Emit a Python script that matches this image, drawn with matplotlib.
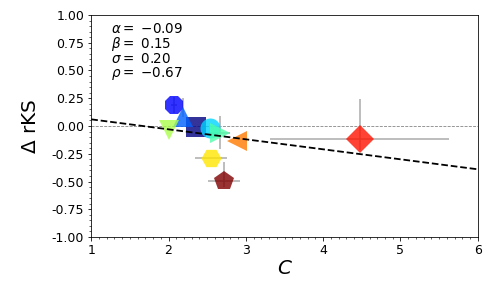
import numpy as np
import matplotlib
matplotlib.use('Agg')
import matplotlib.pyplot as plt
from matplotlib.ticker import MultipleLocator, FormatStrFormatter

# one point per object, ordered as drawn (jet colour index)
c_vals = [2.36, 2.07, 2.19, 2.54, 2.66, 2.01, 2.55, 2.89, 4.47, 2.72]
rks_vals = [-0.005, 0.19, 0.08, -0.015, -0.06, -0.04, -0.285, -0.135, -0.12, -0.495]
c_err = [0.0, 0.04, 0.0, 0.0, 0.13, 0.0, 0.21, 0.0, 1.16, 0.21]
rks_err_lo = [0.0, 0.07, 0.0, 0.0, 0.15, 0.0, 0.0, 0.0, 0.1, 0.05]
rks_err_hi = [0.0, 0.07, 0.17, 0.0, 0.15, 0.0, 0.0, 0.0, 0.36, 0.17]
markers = ['s', '8', '^', 'o', '>', 'v', 'H', '<', 'D', 'p']

# linear fit parameters
alpha = -0.09
beta = 0.15
sigma = 0.20
rho = -0.67


def main():
    fig = plt.figure(figsize=(7, 4), dpi=72)
    ax = fig.add_axes([0.181, 0.177, 0.767, 0.771])

    colors = plt.cm.jet(np.linspace(0, 1, len(c_vals)))

    ax.axhline(0, color='grey', linestyle='--', linewidth=0.8, zorder=0)

    for i in range(len(c_vals)):
        ax.errorbar(
            c_vals[i], rks_vals[i],
            xerr=c_err[i],
            yerr=[[rks_err_lo[i]], [rks_err_hi[i]]],
            fmt='none', ecolor='darkgray', elinewidth=1.5, zorder=1
        )
    for i in range(len(c_vals)):
        ax.plot(
            c_vals[i], rks_vals[i],
            marker=markers[i], markersize=20, color=colors[i],
            alpha=0.8, linestyle='none', markeredgewidth=0, zorder=2
        )

    xs = np.array([1, 6])
    ax.plot(xs, alpha * xs + beta, color='black', linestyle='--',
            linewidth=1.8, zorder=3)

    txt = '\n'.join([
        f'$\\alpha=$ ${alpha:.2f}$',
        f'$\\beta=$ ${beta:.2f}$',
        f'$\\sigma=$ ${sigma:.2f}$',
        f'$\\rho=$ ${rho:.2f}$',
    ])
    ax.text(0.05, 0.97, txt, transform=ax.transAxes, va='top', ha='left',
            fontsize=13.5, linespacing=0.93)

    ax.set_xlim(1, 6)
    ax.set_ylim(-1, 1)
    ax.xaxis.set_minor_locator(MultipleLocator(0.1))
    ax.yaxis.set_major_locator(MultipleLocator(0.25))
    ax.yaxis.set_minor_locator(MultipleLocator(0.05))
    ax.yaxis.set_major_formatter(FormatStrFormatter('%.2f'))
    ax.tick_params(labelsize=12.5)
    ax.set_xlabel('$C$', fontsize=20, labelpad=2)
    ax.set_ylabel('$\\Delta$ rKS', fontsize=20, labelpad=12)

    fig.savefig('out.png', dpi=72)


if __name__ == '__main__':
    main()
